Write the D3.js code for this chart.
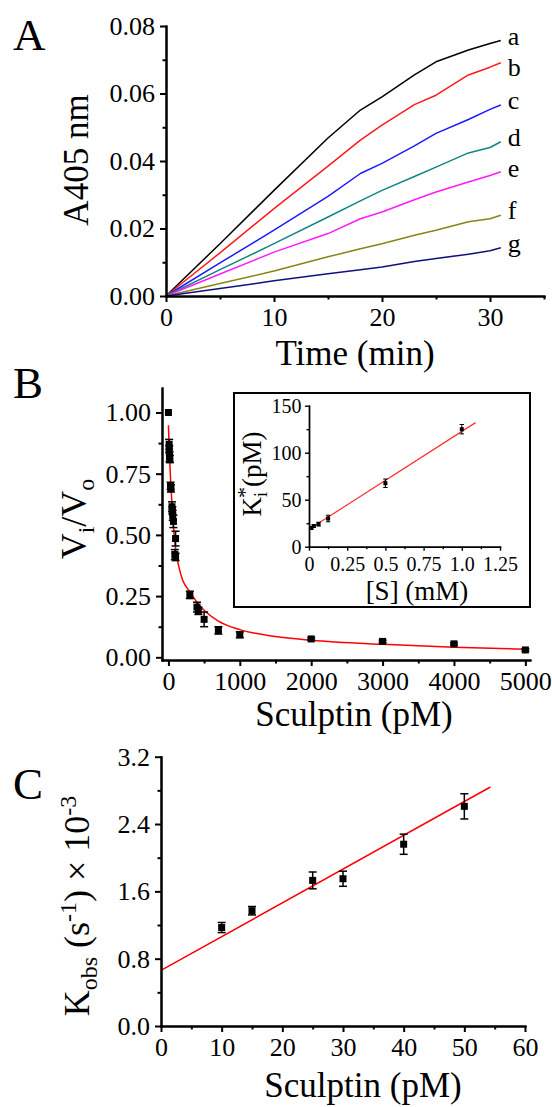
<!DOCTYPE html>
<html>
<head>
<meta charset="utf-8">
<script src="https://cdn.jsdelivr.net/npm/d3@7"></script>
<style>
  body { margin: 0; background: #fff; }
  svg { display: block; }
</style>
</head>
<body>
<svg id="fig" width="552" height="1107"></svg>
<script>
// ---- panel A: absorbance traces ----
const timeA = [0, 5, 10, 15, 18, 20, 23, 25, 28, 30, 31];
const traceNames = ["a", "b", "c", "d", "e", "f", "g"];
const traceColors = ["#000000", "#ff1a1a", "#1a1aff", "#108585", "#ff1aff", "#858515", "#10107f"];
const traceA = [0, 0.0155, 0.0313, 0.0468, 0.0551, 0.0590, 0.0655, 0.0694, 0.0729, 0.0748, 0.0757];
const traceB = [0, 0.0128, 0.0259, 0.0385, 0.0462, 0.0506, 0.0567, 0.0595, 0.0655, 0.0678, 0.0691];
const traceC = [0, 0.0098, 0.0195, 0.0295, 0.0363, 0.0393, 0.0445, 0.0482, 0.0523, 0.0553, 0.0566];
const traceD = [0, 0.0078, 0.0155, 0.0234, 0.0282, 0.0313, 0.0354, 0.0382, 0.0424, 0.0440, 0.0457];
const traceE = [0, 0.0065, 0.0130, 0.0185, 0.0229, 0.0249, 0.0285, 0.0308, 0.0338, 0.0357, 0.0368];
const traceF = [0, 0.0037, 0.0074, 0.0116, 0.0140, 0.0155, 0.0180, 0.0195, 0.0220, 0.0229, 0.0239];
const traceG = [0, 0.0022, 0.0045, 0.0066, 0.0078, 0.0086, 0.0102, 0.0111, 0.0124, 0.0134, 0.0143];
const ticksAx = [0, 10, 20, 30], minorAx = [5, 15, 25, 35];
const ticksAy = [0, 0.02, 0.04, 0.06, 0.08], minorAy = [0.01, 0.03, 0.05, 0.07];

// ---- panel B: Vi/Vo vs sculptin ----
const sculptB = [0, 10, 12, 15, 20, 30, 35, 50, 55, 60, 70, 100, 90, 100, 300, 400, 420, 500, 700, 1000, 2000, 3000, 4000, 5000];
const ratioB = [1.00, 0.87, 0.85, 0.82, 0.81, 0.70, 0.69, 0.615, 0.60, 0.58, 0.555, 0.485, 0.42, 0.41, 0.255, 0.205, 0.19, 0.155, 0.11, 0.092, 0.075, 0.065, 0.055, 0.03];
const errB = [0, 0.02, 0.015, 0.02, 0.015, 0.015, 0.015, 0.02, 0.015, 0.02, 0.025, 0.03, 0.02, 0.015, 0.015, 0.02, 0.015, 0.03, 0.015, 0.012, 0.005, 0.005, 0.005, 0.005];
const fitBx = [0, 10, 20, 30, 50, 70, 100, 150, 200, 300, 400, 500, 700, 1000, 1500, 2000, 3000, 4000, 5000];
const fitBy = [0.948, 0.86, 0.79, 0.73, 0.62, 0.535, 0.445, 0.365, 0.315, 0.268, 0.225, 0.192, 0.148, 0.113, 0.085, 0.07, 0.053, 0.041, 0.033];
const ticksBx = [0, 1000, 2000, 3000, 4000, 5000], minorBx = [500, 1500, 2500, 3500, 4500];
const ticksBy = [0, 0.25, 0.5, 0.75, 1.0], minorBy = [0.125, 0.375, 0.625, 0.875];

// inset: Ki* vs [S]
const substrate = [0.0156, 0.03125, 0.0625, 0.125, 0.5, 1.0];
const kiApp = [20, 22, 24, 30, 67.5, 125];
const errKi = [1.5, 1.5, 2, 3.5, 4.5, 5];
const fitInX = [0, 1.09], fitInY = [18.5, 132];
const ticksIx = [0, 0.25, 0.5, 0.75, 1.0, 1.25], minorIx = [0.125, 0.375, 0.625, 0.875, 1.125];
const ticksIy = [0, 50, 100, 150], minorIy = [25, 75, 125];

// ---- panel C: kobs vs sculptin ----
const sculptC = [10, 15, 25, 30, 40, 50];
const kobsC = [1.17, 1.37, 1.73, 1.75, 2.16, 2.61];
const errC = [0.06, 0.05, 0.1, 0.09, 0.12, 0.15];
const fitCx = [0, 54.3], fitCy = [0.66, 2.84];
const ticksCx = [0, 10, 20, 30, 40, 50, 60], minorCx = [5, 15, 25, 35, 45, 55];
const ticksCy = [0, 0.8, 1.6, 2.4, 3.2], minorCy = [0.4, 1.2, 2.0, 2.8];

const FONT = "Liberation Serif, DejaVu Serif, serif";
const svg = d3.select("#fig").attr("font-family", FONT);

// axis with separate minor ticks (no labels) and labelled majors
function axis(g, kind, scale, major, minor, fmt, opt) {
  const make = kind === "bottom" ? d3.axisBottom : d3.axisLeft;
  g.append("g").call(make(scale).tickValues(minor).tickSize(opt.minor).tickSizeOuter(0).tickFormat(""));
  g.append("g")
      .call(make(scale).tickValues(major).tickSize(opt.major).tickSizeOuter(0)
      .tickPadding(opt.pad).tickFormat(fmt));
  g.selectAll("g").attr("font-family", FONT);
  g.selectAll("text").attr("font-size", opt.font).attr("fill", "#000");
  g.selectAll("line").attr("stroke", "#000").attr("stroke-width", opt.width);
  g.selectAll("path.domain").attr("stroke", "#000").attr("stroke-width", opt.width)
      .attr("stroke-linecap", "square");
}

const mainOpt = {major: 6, minor: 3.5, pad: 6, font: 26, width: 2};
const leftOpt = {major: 6, minor: 3.5, pad: 5, font: 26, width: 2};

// ================= Panel A =================
const xA = d3.scaleLinear().domain([0, 35]).range([166, 544]);
const yA = d3.scaleLinear().domain([0, 0.08]).range([296, 26]);
const gA = svg.append("g");

const tracesA = [traceA, traceB, traceC, traceD, traceE, traceF, traceG];
const lineA = d3.line().x((d, i) => xA(timeA[i])).y(d => yA(d));
gA.selectAll("path.trace").data(tracesA).enter().append("path")
    .attr("class", "trace")
    .attr("d", lineA)
    .attr("fill", "none")
    .attr("stroke", (d, i) => traceColors[i])
    .attr("stroke-width", 1.5)
    .attr("stroke-linejoin", "round");

// end labels: placed next to the last point, pushed down so they don't collide
let lastBase = -Infinity;
const labelBase = tracesA.map(d => {
  const b = Math.max(yA(d[d.length - 1]) + 4, lastBase + 31);
  lastBase = b;
  return b;
});
gA.selectAll("text.lab").data(tracesA).enter().append("text")
    .attr("class", "lab")
    .attr("x", xA(timeA[timeA.length - 1]) + 7)
    .attr("y", (d, i) => labelBase[i])
    .attr("font-size", 26)
    .text((d, i) => traceNames[i]);

axis(gA.append("g").attr("transform", "translate(0,296)"), "bottom", xA, ticksAx, minorAx, d3.format("d"), mainOpt);
axis(gA.append("g").attr("transform", "translate(166,0)"), "left", yA, ticksAy, minorAy, d3.format(".2f"), leftOpt);

gA.append("text").attr("x", 13).attr("y", 50).attr("font-size", 45).text("A");
gA.append("text").attr("x", 355).attr("y", 365).attr("text-anchor", "middle")
    .attr("font-size", 35).text("Time (min)");
gA.append("text").attr("transform", "translate(88,160) rotate(-90)")
    .attr("text-anchor", "middle").attr("font-size", 35).text("A405 nm");

// ================= Panel B =================
const xB = d3.scaleLinear().domain([-90, 5065]).range([162, 530]);
const yB = d3.scaleLinear().domain([-0.011, 1.10]).range([660, 388]);
const gB = svg.append("g");

gB.append("path")
    .attr("d", d3.line().curve(d3.curveMonotoneX).x((d, i) => xB(fitBx[i])).y(d => yB(d))(fitBy))
    .attr("fill", "none").attr("stroke", "#ff0000").attr("stroke-width", 1.5);

function markers(g, xs, ys, es, x, y, size, cap, sw) {
  const pts = xs.map((v, i) => ({x: v, y: ys[i], e: es[i]}));
  const eb = g.append("g").attr("stroke", "#000").attr("stroke-width", sw);
  pts.filter(d => d.e > 0).forEach(d => {
    const cx = x(d.x), y1 = y(d.y + d.e), y2 = y(d.y - d.e);
    eb.append("line").attr("x1", cx).attr("x2", cx).attr("y1", y1).attr("y2", y2);
    eb.append("line").attr("x1", cx - cap).attr("x2", cx + cap).attr("y1", y1).attr("y2", y1);
    eb.append("line").attr("x1", cx - cap).attr("x2", cx + cap).attr("y1", y2).attr("y2", y2);
  });
  g.selectAll(null).data(pts).enter().append("rect")
      .attr("x", d => x(d.x) - size / 2)
      .attr("y", d => y(d.y) - size / 2)
      .attr("width", size).attr("height", size)
      .attr("fill", "#000");
}

markers(gB, sculptB, ratioB, errB, xB, yB, 7, 4, 1.5);

axis(gB.append("g").attr("transform", "translate(0,660)"), "bottom", xB, ticksBx, minorBx, d3.format("d"), mainOpt);
axis(gB.append("g").attr("transform", "translate(162,0)"), "left", yB, ticksBy, minorBy, d3.format(".2f"), leftOpt);

gB.append("text").attr("x", 13).attr("y", 398).attr("font-size", 45).text("B");
gB.append("text").attr("x", 354).attr("y", 726).attr("text-anchor", "middle")
    .attr("font-size", 35).text("Sculptin (pM)");
const vLab = gB.append("text").attr("transform", "translate(86,519) rotate(-90)")
    .attr("text-anchor", "middle").attr("font-size", 36);
vLab.append("tspan").text("V");
vLab.append("tspan").attr("font-size", 24).attr("dy", 8).text("i");
vLab.append("tspan").attr("dy", -8).text("/V");
vLab.append("tspan").attr("font-size", 24).attr("dy", 8).text("o");

// inset
const gI = svg.append("g");
gI.append("rect").attr("x", 234).attr("y", 393).attr("width", 296).attr("height", 214)
    .attr("fill", "#fff").attr("stroke", "#000").attr("stroke-width", 2);
const xI = d3.scaleLinear().domain([0, 1.25]).range([309, 500]);
const yI = d3.scaleLinear().domain([0, 150]).range([546.7, 405.7]);

gI.append("path")
    .attr("d", d3.line().x((d, i) => xI(fitInX[i])).y(d => yI(d))(fitInY))
    .attr("stroke", "#ff3030").attr("stroke-width", 1.2).attr("fill", "none");
markers(gI, substrate, kiApp, errKi, xI, yI, 4, 2.2, 1);

const inOptB = {major: 4, minor: 2.5, pad: 6.5, font: 20, width: 1.4};
const inOptL = {major: 4, minor: 2.5, pad: 3.5, font: 20, width: 1.4};
axis(gI.append("g").attr("transform", "translate(0,546.7)"), "bottom", xI, ticksIx, minorIx,
     d => d === 0 ? "0" : (d === 0.5 ? "0.5" : (d === 1 ? "1.0" : d3.format(".2f")(d))), inOptB);
axis(gI.append("g").attr("transform", "translate(309,0)"), "left", yI, ticksIy, minorIy, d3.format("d"), inOptL);

gI.append("text").attr("x", 417).attr("y", 600).attr("text-anchor", "middle")
    .attr("font-size", 27).text("[S] (mM)");
const kLab = gI.append("text").attr("transform", "translate(261,474) rotate(-90)")
    .attr("text-anchor", "middle").attr("font-size", 27);
kLab.append("tspan").text("K");
kLab.append("tspan").attr("font-size", 18).attr("dy", 6).text("i");
kLab.append("tspan").attr("font-size", 22).attr("dx", -6).attr("dy", -15).text("*");
kLab.append("tspan").attr("dy", 9).text("(pM)");

// ================= Panel C =================
const xC = d3.scaleLinear().domain([0, 60]).range([161, 525]);
const yC = d3.scaleLinear().domain([0, 3.2]).range([1026, 756.7]);
const gC = svg.append("g");

gC.append("path")
    .attr("d", d3.line().x((d, i) => xC(fitCx[i])).y(d => yC(d))(fitCy))
    .attr("stroke", "#ff0000").attr("stroke-width", 1.5).attr("fill", "none");
markers(gC, sculptC, kobsC, errC, xC, yC, 7, 4, 1.5);

axis(gC.append("g").attr("transform", "translate(0,1026)"), "bottom", xC, ticksCx, minorCx, d3.format("d"), mainOpt);
axis(gC.append("g").attr("transform", "translate(161,0)"), "left", yC, ticksCy, minorCy, d3.format(".1f"), leftOpt);

gC.append("text").attr("x", 13).attr("y", 799).attr("font-size", 45).text("C");
gC.append("text").attr("x", 363).attr("y", 1097).attr("text-anchor", "middle")
    .attr("font-size", 35).text("Sculptin (pM)");
const cLab = gC.append("text").attr("transform", "translate(89,906) rotate(-90)")
    .attr("text-anchor", "middle").attr("font-size", 36);
cLab.append("tspan").text("K");
cLab.append("tspan").attr("font-size", 24).attr("dy", 8).text("obs");
cLab.append("tspan").attr("dy", -8).text(" (s");
cLab.append("tspan").attr("font-size", 24).attr("dy", -13).text("-1");
cLab.append("tspan").attr("dy", 13).text(") \u00d7 10");
cLab.append("tspan").attr("font-size", 24).attr("dy", -13).text("-3");
</script>
</body>
</html>
